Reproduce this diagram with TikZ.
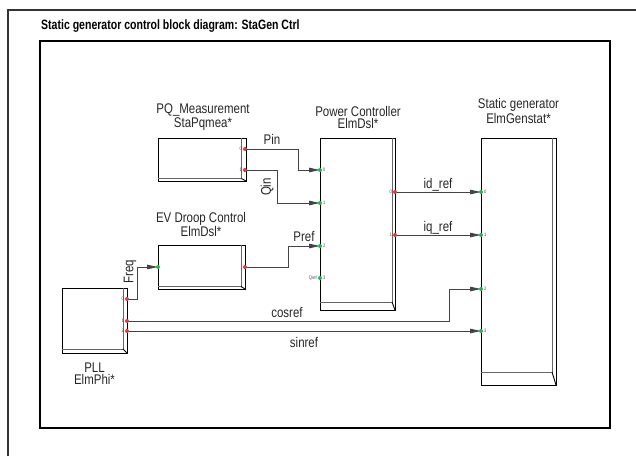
\documentclass[tikz,border=0pt]{standalone}
\usepackage{fontspec}
\usetikzlibrary{arrows.meta}
\newfontfamily\nar[FakeStretch=0.82]{Liberation Sans}
\newfontfamily\narb[FakeStretch=0.78]{Liberation Sans Bold}
\definecolor{portred}{HTML}{E8383D}
\definecolor{portgreen}{HTML}{1DB954}
\definecolor{wire}{HTML}{444444}
\tikzset{
  boxline/.style={draw=black, line width=0.9pt},
  blockbox/.style={boxline, rectangle, inner sep=0pt, outer sep=0pt},
  stripline/.style={draw=black!60, line width=0.8pt},
  wireline/.style={draw=wire, line width=0.9pt, -{Triangle[length=11pt,width=4.5pt]}},
  plainwire/.style={draw=wire, line width=0.9pt},
  lbl/.style={font=\nar\fontsize{14}{12}\selectfont, inner sep=0pt, text=black!85},
  blklbl/.style={lbl, align=center},
  portnum/.style={font=\nar\fontsize{5}{5}\selectfont, inner sep=0pt, text=black!70},
  outdot/.style={fill=portred},
  indot/.style={fill=portgreen},
}
\newcommand\blkstrips[3]{%
  \draw[stripline] ([xshift=-#2]#1.north east) -- ([xshift=-#2,yshift=#3]#1.south east) -- ([yshift=#3]#1.south west);
  \draw[boxline] ([xshift=-#2,yshift=#3]#1.south east) -- (#1.south east);}
\begin{document}
\begin{tikzpicture}[x=1pt,y=-1pt]
\useasboundingbox (0,0) rectangle (636,456);
% frames
\draw[draw=black!80, line width=1.6pt] (8,456) -- (8,10) -- (636,10);
\draw[draw=black, line width=1.2pt] (40,41) rectangle (610,428);
\node[font=\narb\fontsize{13.5}{14}\selectfont, anchor=base west, inner sep=0pt] (title) at (41,29) {Static generator control block diagram: StaGen Ctrl};

% blocks
\node[blockbox, minimum width=88pt, minimum height=43pt] (pq) at (202,159.5) {};
\node[blockbox, minimum width=75pt, minimum height=172pt] (pc) at (357.5,224) {};
\node[blockbox, minimum width=75pt, minimum height=247pt] (sg) at (518.5,261.5) {};
\node[blockbox, minimum width=87pt, minimum height=44pt] (ev) at (201.5,267) {};
\node[blockbox, minimum width=65pt, minimum height=65pt] (pll) at (94.5,320.5) {};
\blkstrips{pq}{4.5pt}{2.5pt}
\blkstrips{pc}{3pt}{8pt}
\blkstrips{sg}{4pt}{13pt}
\blkstrips{ev}{4pt}{2.5pt}
\blkstrips{pll}{4pt}{4pt}

% block labels
\node[blklbl] (pqlbl) at (203,117) {PQ\_Measurement\\StaPqmea*};
\node[blklbl] (pclbl) at (358,117) {Power Controller\\ElmDsl*};
\node[blklbl] (sglbl) at (518.5,111) {Static generator\\ElmGenstat*};
\node[blklbl] (evlbl) at (201,224.5) {EV Droop Control\\ElmDsl*};
\node[blklbl] (plllbl) at (94.5,373.5) {PLL\\ElmPhi*};

% ports
\coordinate (pq-o0) at (245,149);
\coordinate (pq-o1) at (245,170);
\coordinate (pc-i0) at (320,170);
\coordinate (pc-i1) at (320,203);
\coordinate (pc-i2) at (320,246);
\coordinate (pc-i3) at (320,278);
\coordinate (pc-o0) at (395,192);
\coordinate (pc-o1) at (395,235);
\coordinate (sg-i0) at (481,192);
\coordinate (sg-i1) at (481,235);
\coordinate (sg-i2) at (481,289);
\coordinate (sg-i3) at (481,331);
\coordinate (ev-i) at (158,267);
\coordinate (ev-o) at (245,267);
\coordinate (pll-o0) at (127,299);
\coordinate (pll-o1) at (127,321);
\coordinate (pll-o2) at (127,331);

% connectors
\draw[wireline] (pq-o0) -- ++(53,0) |- (pc-i0);
\draw[wireline] (pq-o1) -- ++(32,0) |- (pc-i1);
\draw[wireline] (ev-o) -- ++(43,0) |- (pc-i2);
\draw[wireline] (pll-o0) -- ++(10,0) |- (ev-i);
\draw[wireline] (pll-o1) -- ++(322,0) |- (sg-i2);
\draw[wireline] (pll-o2) -- (sg-i3);
\draw[wireline] (pc-o0) -- (sg-i0);
\draw[wireline] (pc-o1) -- (sg-i1);

% connector labels
\node[lbl, anchor=base] (pinl) at (272,144) {Pin};
\node[lbl, rotate=90] (qinl) at (267,187) {Qin};
\node[lbl, anchor=base] (prefl) at (304,241) {Pref};
\node[lbl, rotate=90] (freql) at (130,272) {Freq};
\node[lbl, anchor=base] (idl) at (438,188) {id\_ref};
\node[lbl, anchor=base] (iql) at (438,231) {iq\_ref};
\node[lbl, anchor=base] (cosl) at (287,317) {cosref};
\node[lbl, anchor=base] (sinl) at (304,347) {sinref};

% port dots
\foreach \p in {pq-o0,pq-o1,pc-o0,pc-o1,ev-o,pll-o0,pll-o1,pll-o2}
  \fill[outdot] (\p) circle (2pt);
\foreach \p in {pc-i0,pc-i1,pc-i2,pc-i3,sg-i0,sg-i1,sg-i2,sg-i3,ev-i}
  \fill[indot] (\p) circle (2pt);

% port numbers
\node[portnum, anchor=east] at ([xshift=-3pt]pq-o0) {0};
\node[portnum, anchor=east] at ([xshift=-3pt]pq-o1) {1};
\node[portnum, anchor=east] at ([xshift=-3pt]pll-o0) {0};
\node[portnum, anchor=east] at ([xshift=-3pt]pll-o1) {1};
\node[portnum, anchor=east] at ([xshift=-3pt]pll-o2) {2};
\node[portnum, anchor=east] at ([xshift=-3pt]pc-o0) {0};
\node[portnum, anchor=east] at ([xshift=-3pt]pc-o1) {1};
\node[portnum, anchor=west] at ([xshift=3pt]pc-i0) {0};
\node[portnum, anchor=west] at ([xshift=3pt]pc-i1) {1};
\node[portnum, anchor=west] at ([xshift=3pt]pc-i2) {2};
\node[portnum, anchor=west] at ([xshift=3pt]pc-i3) {3};
\node[portnum, anchor=east] at ([xshift=-3pt]pc-i3) {Qref};
\node[portnum, anchor=west] at ([xshift=3pt]sg-i0) {0};
\node[portnum, anchor=west] at ([xshift=3pt]sg-i1) {1};
\node[portnum, anchor=west] at ([xshift=3pt]sg-i2) {2};
\node[portnum, anchor=west] at ([xshift=3pt]sg-i3) {3};
\end{tikzpicture}
\end{document}
